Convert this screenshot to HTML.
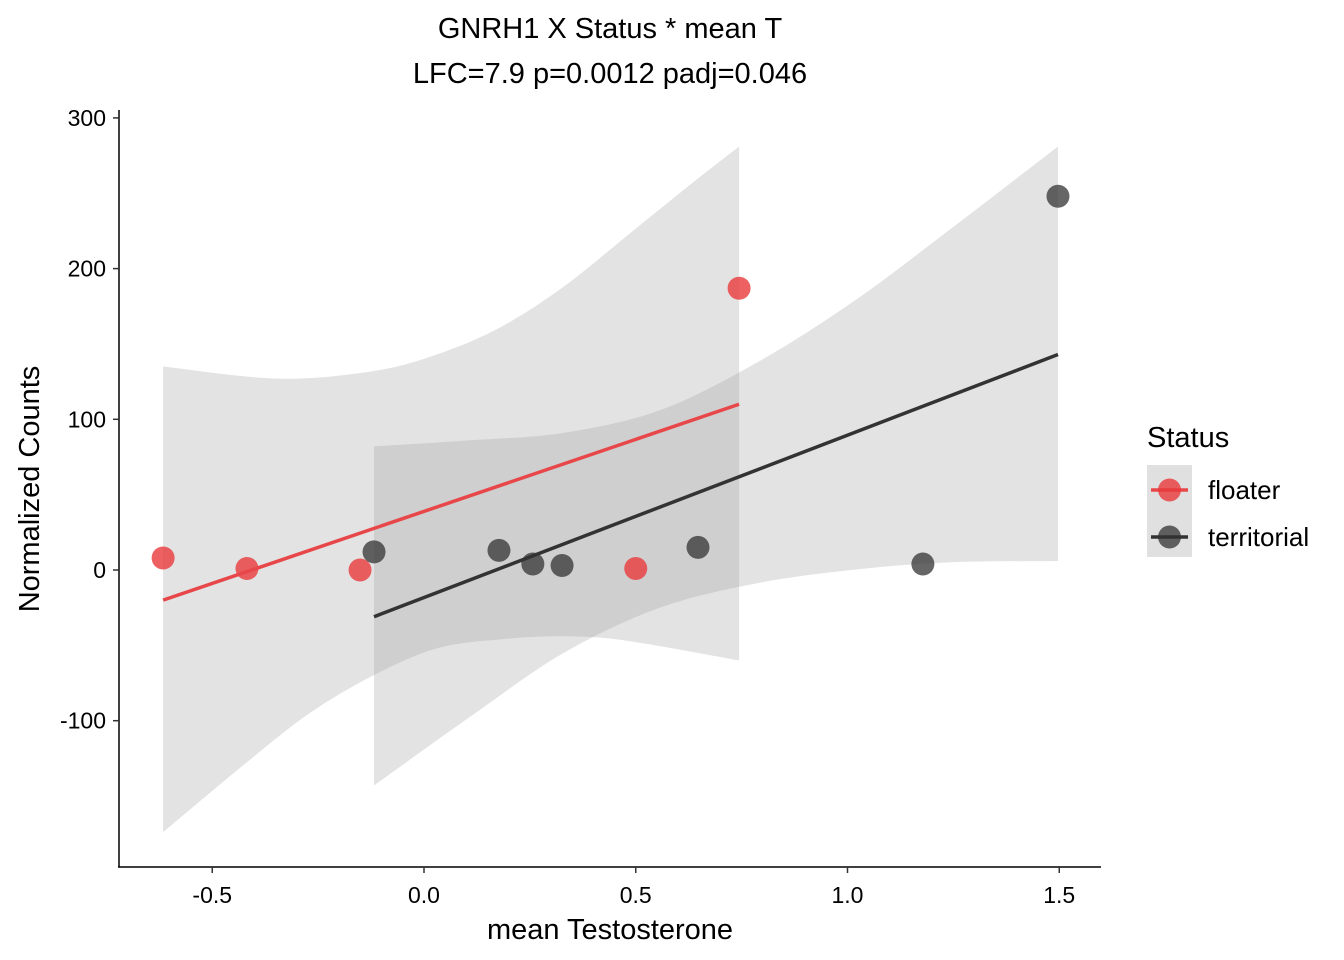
<!DOCTYPE html>
<html><head><meta charset="utf-8"><style>
html,body{margin:0;padding:0;background:#fff;overflow:hidden;width:1344px;height:960px;}
svg{display:block;}
svg text{font-family:"Liberation Sans",Arial,sans-serif;}
</style></head><body>
<svg id="chart" width="1344" height="960" viewBox="0 0 1344 960">
<text x="610" y="38" text-anchor="middle" font-size="29" fill="#000">GNRH1 X Status * mean T</text>
<text x="610" y="83" text-anchor="middle" font-size="29" fill="#000">LFC=7.9 p=0.0012 padj=0.046</text>
<text x="610" y="939" text-anchor="middle" font-size="29" fill="#000">mean Testosterone</text>
<text x="39" y="489" text-anchor="middle" font-size="29" fill="#000" transform="rotate(-90 39 489)">Normalized Counts</text>
<g>
<text x="1147" y="447" font-size="29" fill="#000">Status</text>
<rect x="1147" y="465" width="45" height="92" fill="#e0e0e0"/>
<g>
<line x1="1151" y1="490" x2="1188" y2="490" stroke="#E8474A" stroke-width="3.5"/>
<circle cx="1169.5" cy="490" r="11.5" fill="#E8393C" fill-opacity="0.8"/>
<text x="1208" y="499" font-size="26" fill="#000">floater</text>
</g>
<g>
<line x1="1151" y1="537" x2="1188" y2="537" stroke="#333" stroke-width="3.5"/>
<circle cx="1169.5" cy="537" r="11.5" fill="#333" fill-opacity="0.75"/>
<text x="1208" y="546" font-size="26" fill="#000">territorial</text>
</g>
</g>
</svg>
<script>
const xTicks=[-0.5,0.0,0.5,1.0,1.5];
const xTickLabels=["-0.5","0.0","0.5","1.0","1.5"];
const yTicks=[-100,0,100,200,300];
const yTickLabels=["-100","0","100","200","300"];
const floaterX=[-0.616,-0.418,-0.151,0.744,0.5];
const floaterY=[8,1,0,187,1];
const territorialX=[-0.118,0.177,0.257,0.326,0.647,1.178,1.497];
const territorialY=[12,13,4,3,15,4,248];
const floaterFitX=[-0.616,0.744];
const floaterFitY=[-20,110];
const territorialFitX=[-0.118,1.497];
const territorialFitY=[-31,143];
const floaterBandX=[-0.616,-0.345,-0.12,0.03,0.18,0.33,0.48,0.63,0.744];
const floaterBandUpper=[135,127,132,143,161,188,222,256,281];
const floaterBandLowerX=[-0.616,-0.42,-0.27,-0.12,0.03,0.18,0.33,0.48,0.744];
const floaterBandLower=[-174,-128,-95,-70,-52,-46,-44,-47,-60];
const territorialBandX=[-0.118,0.106,0.33,0.557,0.782,1.008,1.233,1.497];
const territorialBandUpper=[82,86,91,106,137,177,224,281];
const territorialBandLower=[-143,-98,-55,-25,-9,0,5,6];

const X=v=>424+v*423.5;
const Y=v=>570-v*1.507;
const svg=document.getElementById('chart');
const NS='http://www.w3.org/2000/svg';
function mk(t,a,before){const e=document.createElementNS(NS,t);for(const k in a)e.setAttribute(k,a[k]);if(before)svg.insertBefore(e,svg.firstChild);else svg.appendChild(e);return e;}
function smooth(p){
  let d='';
  for(let i=0;i<p.length-1;i++){
    const p0=p[Math.max(0,i-1)],p1=p[i],p2=p[i+1],p3=p[Math.min(p.length-1,i+2)];
    const c1=[p1[0]+(p2[0]-p0[0])/6,p1[1]+(p2[1]-p0[1])/6];
    const c2=[p2[0]-(p3[0]-p1[0])/6,p2[1]-(p3[1]-p1[1])/6];
    d+=(i===0?'':'')+' C'+c1+' '+c2+' '+p2;
  }
  return d;
}
function band(xu,up,xl,lo,name){
  const U=xu.map((x,i)=>[X(x),Y(up[i])]);
  const L=xl.map((x,i)=>[X(x),Y(lo[i])]).reverse();
  const d='M'+U[0]+smooth(U)+' L'+L[0]+smooth(L)+' Z';
  const e=mk('path',{d:d,fill:'#999999','fill-opacity':0.28});
  
  
}
band(floaterBandX,floaterBandUpper,floaterBandLowerX,floaterBandLower,'floater-confidence-band');
band(territorialBandX,territorialBandUpper,territorialBandX,territorialBandLower,'territorial-confidence-band');

floaterX.forEach((x,i)=>{
  const c=mk('circle',{cx:X(x),cy:Y(floaterY[i]),r:11.5,fill:'#E8393C','fill-opacity':0.8});
  
  
});
territorialX.forEach((x,i)=>{
  const c=mk('circle',{cx:X(x),cy:Y(territorialY[i]),r:11.5,fill:'#333333','fill-opacity':0.75});
  
  
});
let l1=mk('line',{x1:X(floaterFitX[0]),y1:Y(floaterFitY[0]),x2:X(floaterFitX[1]),y2:Y(floaterFitY[1]),stroke:'#E8474A','stroke-width':3.5});


let l2=mk('line',{x1:X(territorialFitX[0]),y1:Y(territorialFitY[0]),x2:X(territorialFitX[1]),y2:Y(territorialFitY[1]),stroke:'#333333','stroke-width':3.5});



let ax=mk('line',{x1:119,y1:110,x2:119,y2:867,stroke:'#000','stroke-width':1.5});


let bx=mk('line',{x1:118,y1:867,x2:1101,y2:867,stroke:'#000','stroke-width':1.5});


xTicks.forEach((v,i)=>{
  mk('line',{x1:X(v),y1:867,x2:X(v),y2:873,stroke:'#333','stroke-width':1.5});
  const t=mk('text',{x:X(v),y:903,'text-anchor':'middle','font-size':23,fill:'#000'});
  t.textContent=xTickLabels[i];
  
  
});
yTicks.forEach((v,i)=>{
  mk('line',{x1:113,y1:Y(v),x2:119,y2:Y(v),stroke:'#333','stroke-width':1.5});
  const t=mk('text',{x:106,y:Y(v)+8,'text-anchor':'end','font-size':23,fill:'#000'});
  t.textContent=yTickLabels[i];
  
  
});
</script>
</body></html>
